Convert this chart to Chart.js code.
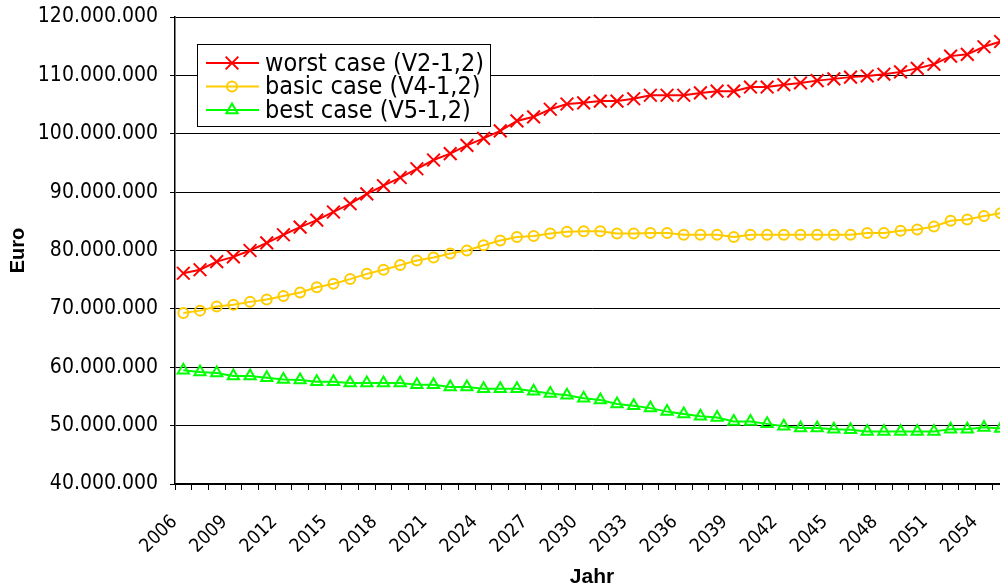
<!DOCTYPE html>
<html>
<head>
<meta charset="utf-8">
<script src="https://cdn.jsdelivr.net/npm/chart.js@4/dist/chart.umd.min.js"></script>
<style>
  html, body { margin: 0; padding: 0; background: #fff; overflow: hidden; }
  #wrap { width: 1020px; height: 600px; }
</style>
</head>
<body>
<div id="wrap"><canvas id="euro-chart" width="1020" height="600"></canvas></div>
<script>
var years = [2006, 2007, 2008, 2009, 2010, 2011, 2012, 2013, 2014, 2015,
             2016, 2017, 2018, 2019, 2020, 2021, 2022, 2023, 2024, 2025,
             2026, 2027, 2028, 2029, 2030, 2031, 2032, 2033, 2034, 2035,
             2036, 2037, 2038, 2039, 2040, 2041, 2042, 2043, 2044, 2045,
             2046, 2047, 2048, 2049, 2050, 2051, 2052, 2053, 2054, 2055];

// Euro values per year
var worstCase = [76100000, 76700000, 78100000, 78900000, 80000000, 81300000, 82700000, 84000000, 85200000, 86600000,
                 88000000, 89700000, 91100000, 92500000, 94000000, 95500000, 96600000, 98000000, 99200000, 100500000,
                 102200000, 102900000, 104200000, 105100000, 105300000, 105600000, 105600000, 106000000, 106600000, 106600000,
                 106600000, 107000000, 107300000, 107300000, 108000000, 108000000, 108400000, 108700000, 109100000, 109400000,
                 109700000, 109900000, 110200000, 110600000, 111200000, 111900000, 113300000, 113600000, 114900000, 115800000];
var basicCase = [69300000, 69700000, 70400000, 70700000, 71200000, 71600000, 72200000, 72800000, 73700000, 74300000,
                 75100000, 76000000, 76700000, 77500000, 78300000, 78800000, 79500000, 80000000, 80900000, 81700000,
                 82300000, 82500000, 82900000, 83200000, 83300000, 83300000, 82900000, 82900000, 83000000, 83000000,
                 82700000, 82700000, 82700000, 82300000, 82700000, 82700000, 82700000, 82700000, 82700000, 82700000,
                 82700000, 83000000, 83000000, 83400000, 83600000, 84100000, 85100000, 85300000, 85900000, 86400000];
var bestCase  = [59500000, 59200000, 59000000, 58500000, 58500000, 58200000, 57900000, 57800000, 57500000, 57500000,
                 57300000, 57300000, 57300000, 57300000, 57000000, 57000000, 56600000, 56600000, 56300000, 56300000,
                 56300000, 55900000, 55500000, 55200000, 54700000, 54400000, 53700000, 53400000, 53000000, 52400000,
                 52000000, 51600000, 51400000, 50700000, 50700000, 50300000, 49900000, 49600000, 49600000, 49400000,
                 49300000, 49000000, 49000000, 49000000, 49000000, 49000000, 49400000, 49400000, 49700000, 49500000];

var seriesNames = ['worst case (V2-1,2)', 'basic case (V4-1,2)', 'best case (V5-1,2)'];
var yMin = 40000000, yMax = 120000000, yStep = 10000000;

var tickFont = 'DejaVu Sans Condensed';

function formatEuro(v) {
    return String(v).replace(/\B(?=(\d{3})+(?!\d))/g, '.');
}

function drawMarker(ctx, style, x, y, r) {
    ctx.beginPath();
    if (style === 'crossRot') {
        var d = r * Math.SQRT1_2;
        ctx.moveTo(x - d, y - d); ctx.lineTo(x + d, y + d);
        ctx.moveTo(x - d, y + d); ctx.lineTo(x + d, y - d);
    } else if (style === 'circle') {
        ctx.arc(x, y, r, 0, Math.PI * 2);
    } else if (style === 'triangle') {
        for (var k = 0; k < 3; k++) {
            var a = k * 2 * Math.PI / 3;
            var px = x + Math.sin(a) * r, py = y - Math.cos(a) * r;
            if (k === 0) ctx.moveTo(px, py); else ctx.lineTo(px, py);
        }
        ctx.closePath();
    }
    ctx.stroke();
}

// legend box inside the plot, top left
var boxLegend = {
    id: 'boxLegend',
    afterDraw: function(chart) {
        var ctx = chart.ctx;
        var x0 = 197, y0 = 44, w = 293, h = 82;
        ctx.save();
        ctx.fillStyle = '#fff';
        ctx.fillRect(x0, y0, w, h);
        ctx.strokeStyle = '#000';
        ctx.lineWidth = 1;
        ctx.strokeRect(x0 + 0.5, y0 + 0.5, w, h);
        chart.data.datasets.forEach(function(ds, i) {
            var cy = 63 + i * 23.5;
            ctx.strokeStyle = ds.borderColor;
            ctx.lineWidth = 2;
            ctx.beginPath();
            ctx.moveTo(206, cy); ctx.lineTo(259, cy);
            ctx.stroke();
            drawMarker(ctx, ds.pointStyle, 232, cy, ds.pointRadius);
            ctx.fillStyle = '#000';
            ctx.font = '25px "' + tickFont + '"';
            ctx.textBaseline = 'middle';
            ctx.textAlign = 'left';
            ctx.fillText(ds.label, 265, cy + 1);
        });
        ctx.restore();
    }
};

var colors = ['#ff0000', '#ffcc00', '#00ff00'];
var styles = ['crossRot', 'circle', 'triangle'];
var radii = [9, 5, 6.5];
var values = [worstCase, basicCase, bestCase];

var datasets = values.map(function(vals, i) {
    return {
        label: seriesNames[i],
        data: vals,
        borderColor: colors[i],
        backgroundColor: 'rgba(0,0,0,0)',
        borderWidth: 2,
        pointStyle: styles[i],
        pointRadius: radii[i],
        pointBorderColor: colors[i],
        pointBackgroundColor: 'rgba(0,0,0,0)',
        pointBorderWidth: 2,
        tension: 0,
        clip: false
    };
});

function noPadding(scale) {
    scale.paddingLeft = 0;
    scale.paddingRight = 0;
    scale.paddingTop = 0;
    scale.paddingBottom = 0;
}

var ctx = document.getElementById('euro-chart').getContext('2d');
var euroChart = new Chart(ctx, {
    type: 'line',
    data: { labels: years, datasets: datasets },
    options: {
        responsive: false,
        animation: false,
        devicePixelRatio: 1,
        layout: { padding: { top: 17, right: 2, left: 0, bottom: 0 } },
        plugins: {
            legend: { display: false },
            tooltip: { enabled: false }
        },
        scales: {
            x: {
                type: 'category',
                offset: true,
                grid: {
                    offset: true,
                    drawOnChartArea: false,
                    drawTicks: true,
                    tickLength: 6,
                    color: '#000'
                },
                border: { color: '#000', width: 1.5 },
                ticks: {
                    autoSkip: false,
                    maxRotation: 45,
                    minRotation: 45,
                    padding: 21,
                    labelOffset: -9,
                    color: '#000',
                    font: { family: tickFont, size: 19 },
                    callback: function(val, index) {
                        return index % 3 === 0 ? String(years[index]) : '';
                    }
                },
                title: {
                    display: true,
                    text: 'Jahr',
                    color: '#000',
                    font: { family: 'Liberation Sans', size: 21, weight: 'bold' },
                    padding: { top: 0, bottom: 10 }
                },
                afterFit: function(scale) {
                    scale.height = 116;
                    noPadding(scale);
                }
            },
            y: {
                min: yMin,
                max: yMax,
                grid: { color: '#000', lineWidth: 1, tickLength: 5 },
                border: { color: '#000', width: 1.5 },
                ticks: {
                    stepSize: yStep,
                    padding: 12,
                    color: '#000',
                    font: { family: tickFont, size: 21 },
                    callback: function(v) { return formatEuro(v); }
                },
                title: {
                    display: true,
                    text: 'Euro',
                    color: '#000',
                    font: { family: 'Liberation Sans', size: 20, weight: 'bold' },
                    padding: { top: 6, bottom: 0 }
                },
                afterFit: function(scale) {
                    scale.width = 175;
                    noPadding(scale);
                }
            }
        }
    },
    plugins: [boxLegend]
});
</script>
</body>
</html>
